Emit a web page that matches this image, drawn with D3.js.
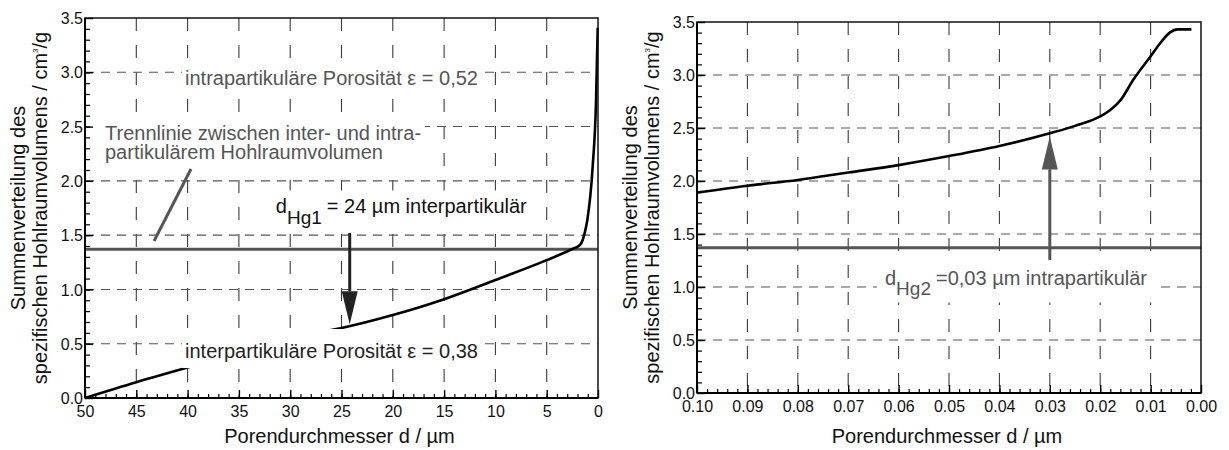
<!DOCTYPE html>
<html><head><meta charset="utf-8">
<script src="https://cdn.jsdelivr.net/npm/d3@7"></script>
<style>
body{margin:0;background:#fff;}
svg{display:block;font-family:"Liberation Sans",Arial,Helvetica,sans-serif;}
</style>
</head><body>
<svg id="c" width="1229" height="450"></svg>
<script>
// ---------- data ----------
const leftDiameter = [50, 45, 40, 35, 30, 26, 25, 20, 15, 10, 5, 2.56, 1.75, 1.27, 1.04, 0.52, 0.19, 0.03];
const leftVolume   = [0, 0.145, 0.28, 0.41, 0.535, 0.626, 0.645, 0.764, 0.91, 1.087, 1.27, 1.37, 1.41, 1.53, 1.64, 2.13, 2.74, 3.41];

const rightDiameter = [0.10, 0.09, 0.08, 0.07, 0.06, 0.05, 0.04, 0.03, 0.025, 0.02, 0.018, 0.016, 0.0135, 0.0101, 0.0081, 0.0062, 0.0046, 0.0019];
const rightVolume   = [1.89, 1.955, 2.01, 2.08, 2.15, 2.235, 2.33, 2.45, 2.52, 2.61, 2.67, 2.76, 2.95, 3.17, 3.30, 3.40, 3.43, 3.43];

const leftXTicks  = [50, 45, 40, 35, 30, 25, 20, 15, 10, 5, 0];
const leftXLabels = ["50","45","40","35","30","25","20","15","10","5","0"];
const rightXTicks  = [0.10, 0.09, 0.08, 0.07, 0.06, 0.05, 0.04, 0.03, 0.02, 0.01, 0.00];
const rightXLabels = ["0.10","0.09","0.08","0.07","0.06","0.05","0.04","0.03","0.02","0.01","0.00"];
const yTicks  = [0, 0.5, 1.0, 1.5, 2.0, 2.5, 3.0, 3.5];
const yLabels = ["0.0","0.5","1.0","1.5","2.0","2.5","3.0","3.5"];

const separatorVolume = 1.37;
const arrowLeft  = {d: 24.2, from: 1.52, to: 0.68};
const arrowRight = {d: 0.03, from: 1.255, to: 2.42};

const xTitle = "Porendurchmesser d / µm";
const yTitle1 = "Summenverteilung des";
const yTitle2 = "spezifischen Hohlraumvolumens / cm";

// ---------- drawing ----------
const svg = d3.select("#c");
const FONT = '"Liberation Sans",Arial,Helvetica,sans-serif';

function panel(cfg) {
  const x = d3.scaleLinear().domain([cfg.xTicks[0], cfg.xTicks[cfg.xTicks.length-1]]).range([cfg.left, cfg.right]);
  const y = d3.scaleLinear().domain([0, 3.5]).range([cfg.bottom, cfg.top]);
  const g = svg.append("g");

  g.append("g").selectAll("line").data(cfg.xTicks.slice(1, -1)).join("line")
    .attr("x1", d => x(d)).attr("x2", d => x(d))
    .attr("y1", cfg.top).attr("y2", cfg.bottom)
    .attr("stroke", "#3a3a3a").attr("stroke-width", 1.1).attr("stroke-dasharray", "13,14");
  g.append("g").selectAll("line").data(yTicks.slice(1, -1)).join("line")
    .attr("x1", cfg.left).attr("x2", cfg.right)
    .attr("y1", d => y(d)).attr("y2", d => y(d))
    .attr("stroke", "#555").attr("stroke-width", 1.1).attr("stroke-dasharray", "9,7");

  g.append("line").attr("x1", cfg.left).attr("x2", cfg.right)
    .attr("y1", y(separatorVolume)).attr("y2", y(separatorVolume))
    .attr("stroke", "#555").attr("stroke-width", 3);

  const line = d3.line().x(d => x(d[0])).y(d => y(d[1])).curve(d3.curveMonotoneX);
  g.append("path").datum(d3.zip(cfg.xs, cfg.ys)).attr("d", line)
    .attr("fill", "none").attr("stroke", "#000").attr("stroke-width", 2.6);

  return {x, y, g};
}

function vtitle(xp, yp, build) {
  const t = svg.append("text").attr("font-size", 20).attr("fill", "#111")
    .attr("text-anchor", "middle")
    .attr("transform", `translate(${xp},${yp}) rotate(-90)`);
  build(t);
}

function axes(p, cfg) {
  const {x, y, g} = p;
  g.append("rect").attr("x", cfg.left).attr("y", cfg.top)
    .attr("width", cfg.right - cfg.left).attr("height", cfg.bottom - cfg.top)
    .attr("fill", "none").attr("stroke", "#111").attr("stroke-width", 1.5);
  g.append("line").attr("x1", cfg.left).attr("x2", cfg.left).attr("y1", cfg.top).attr("y2", cfg.bottom)
    .attr("stroke", "#000").attr("stroke-width", 2);
  g.append("line").attr("x1", cfg.left).attr("x2", cfg.right).attr("y1", cfg.bottom).attr("y2", cfg.bottom)
    .attr("stroke", "#000").attr("stroke-width", 2);

  g.append("g").attr("transform", `translate(0,${cfg.bottom})`)
    .call(d3.axisBottom(x).tickValues(cfg.xMinor).tickSize(-4).tickFormat(""))
    .call(s => s.select(".domain").remove())
    .call(s => s.selectAll("line").attr("stroke", "#000").attr("stroke-width", 1.2));
  g.append("g").attr("transform", `translate(0,${cfg.bottom})`)
    .call(d3.axisBottom(x).tickValues(cfg.xTicks).tickSize(-8).tickFormat((d, i) => cfg.xLabels[i]))
    .attr("font-size", 16).attr("font-family", FONT)
    .call(s => s.select(".domain").remove())
    .call(s => s.selectAll("line").attr("stroke", "#000").attr("stroke-width", 1.4))
    .call(s => s.selectAll("text").attr("y", 19).attr("dy", null).attr("fill", "#111"));

  g.append("g").attr("transform", `translate(${cfg.left},0)`)
    .call(d3.axisLeft(y).tickValues(d3.range(1, 35).map(v => v / 10)).tickSize(-5).tickFormat(""))
    .call(s => s.select(".domain").remove())
    .call(s => s.selectAll("line").attr("stroke", "#000").attr("stroke-width", 1.2));
  g.append("g").attr("transform", `translate(${cfg.left},0)`)
    .call(d3.axisLeft(y).tickValues(yTicks).tickSize(-8).tickPadding(2).tickFormat((d, i) => yLabels[i]))
    .attr("font-size", 16).attr("font-family", FONT)
    .call(s => s.select(".domain").remove())
    .call(s => s.selectAll("line").attr("stroke", "#000").attr("stroke-width", 1.4))
    .call(s => s.selectAll("text").attr("dy", "0.35em").attr("fill", "#111"));

  svg.append("text").attr("x", (cfg.left + cfg.right) / 2 - 2).attr("y", 443)
    .attr("text-anchor", "middle").attr("font-size", 20).attr("fill", "#111").text(xTitle);

  const yMid = (cfg.top + cfg.bottom) / 2;
  vtitle(cfg.left - 60, yMid, t => t.text(yTitle1));
  vtitle(cfg.left - 38, yMid, t => {
    t.append("tspan").text(yTitle2);
    t.append("tspan").attr("dy", -9).attr("font-size", 8).text("3");
    t.append("tspan").attr("dy", 9).text("/g");
  });
}

function label(g, xp, yp, lines, color, pad) {
  const t = g.append("text").attr("x", xp).attr("y", yp).attr("font-size", 20).attr("fill", color)
    .style("white-space", "pre");
  lines.forEach(p => {
    const s = t.append("tspan").text(p.t);
    if (p.x !== undefined) s.attr("x", p.x);
    if (p.dy) s.attr("dy", p.dy);
    if (p.dx) s.attr("dx", p.dx);
    if (p.fs) s.attr("font-size", p.fs);
  });
  const b = t.node().getBBox();
  g.insert("rect", () => t.node())
    .attr("x", b.x - pad[3]).attr("y", b.y - pad[0])
    .attr("width", b.width + pad[1] + pad[3]).attr("height", b.height + pad[0] + pad[2])
    .attr("fill", "#fff");
  return t;
}

function arrow(g, x, y, a, color) {
  const xa = x(a.d), y0 = y(a.from), y1 = y(a.to);
  const dir = y1 > y0 ? 1 : -1;
  const headLen = 33, half = 8;
  g.append("line").attr("x1", xa).attr("x2", xa).attr("y1", y0).attr("y2", y1 - dir * headLen)
    .attr("stroke", color).attr("stroke-width", 3);
  g.append("path")
    .attr("d", `M${xa - half},${y1 - dir * headLen} L${xa + half},${y1 - dir * headLen} L${xa},${y1} Z`)
    .attr("fill", color);
}

// ----- left panel -----
const Lcfg = {left: 85, right: 598, top: 18, bottom: 398, xTicks: leftXTicks, xLabels: leftXLabels,
  xMinor: d3.range(1, 50), xs: leftDiameter, ys: leftVolume};
const L = panel(Lcfg);
label(L.g, L.x(40.25), L.y(2.88), [{t: "intrapartikuläre Porosität ε = 0,52"}], "#555", [1, 3, 3, 3]);
label(L.g, L.x(48.05), L.y(2.376), [
  {t: "Trennlinie zwischen inter- und intra-"},
  {t: "partikulärem Hohlraumvolumen", x: L.x(48.05), dy: 19}], "#555", [2, 4, 3, 18]);
L.g.append("line").attr("x1", L.x(43.27)).attr("y1", L.y(1.446)).attr("x2", L.x(39.67)).attr("y2", L.y(2.109))
  .attr("stroke", "#555").attr("stroke-width", 3);
label(L.g, L.x(31.4), L.y(1.70), [{t: "d"}, {t: "Hg1", dy: 10.5, fs: 19}, {t: "= 24 µm interpartikulär", dy: -10.5, dx: 5}], "#111", [5, 6, 3, 6]);
label(L.g, L.x(40.25), L.y(0.368), [{t: "interpartikuläre Porosität ε = 0,38"}], "#222", [11, 3, 6, 3]);
arrow(L.g, L.x, L.y, arrowLeft, "#222");
axes(L, Lcfg);

// ----- right panel -----
const Rcfg = {left: 697, right: 1201, top: 22, bottom: 393, xTicks: rightXTicks, xLabels: rightXLabels,
  xMinor: d3.range(1, 50).map(v => v / 500), xs: rightDiameter, ys: rightVolume};
const R = panel(Rcfg);
label(R.g, R.x(0.0627), R.y(1.019), [{t: "d"}, {t: "Hg2", dy: 10.5, fs: 19}, {t: "=0,03 µm intrapartikulär", dy: -10.5, dx: 5}], "#555", [3, 8, 3, 8]);
arrow(R.g, R.x, R.y, arrowRight, "#555");
axes(R, Rcfg);
</script>
</body></html>
